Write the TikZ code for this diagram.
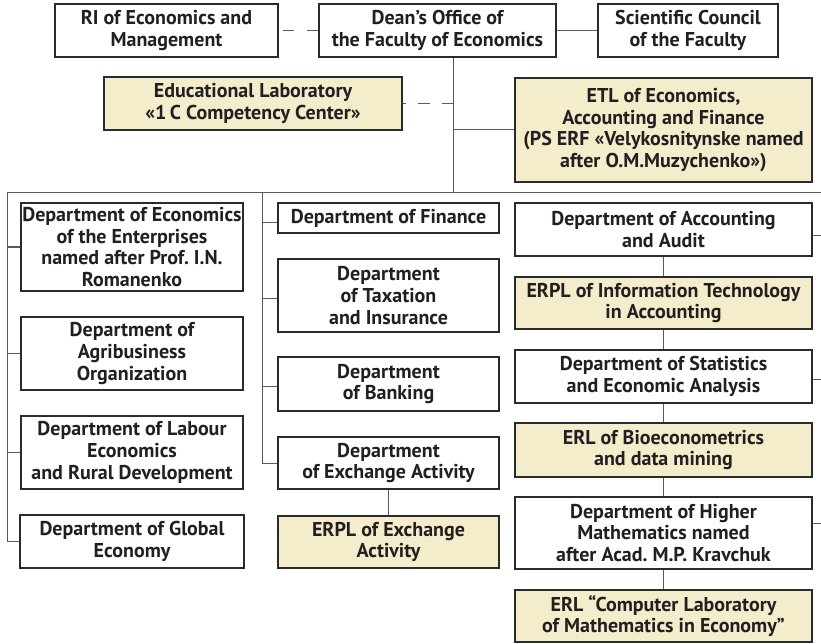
\documentclass[tikz,border=0pt]{standalone}
\usepackage{fontspec}
\setmainfont{PT Sans}
\usetikzlibrary{calc}
\frenchspacing
\definecolor{txt}{HTML}{231F20}
\definecolor{bord}{HTML}{2B2B2B}
\definecolor{conn}{HTML}{5A5A5A}
\definecolor{beige}{HTML}{F3EDCB}
\tikzset{
  box/.style={draw=bord, line width=1.1pt, fill=white, inner sep=0pt, align=center,
    text=txt, font=\bfseries\fontsize{20}{21.7}\selectfont},
  labbox/.style={box, fill=beige},
  conline/.style={draw=conn, line width=1pt},
  dashline/.style={conline, dash pattern=on 11.5pt off 13pt}
}
\begin{document}
\begin{tikzpicture}[x=1pt,y=-1pt]
\useasboundingbox (0,0) rectangle (821,644);
% top row
\node[box, minimum width=223pt, minimum height=53pt] (ri) at (166.5,30.5) {RI of Economics and\\Management};
\node[box, minimum width=237pt, minimum height=53pt] (dean) at (437.5,30.5) {Dean’s Office of\\the Faculty of Economics};
\node[box, minimum width=180pt, minimum height=53pt] (sc) at (688,30.5) {Scientific Council\\of the Faculty};
\node[labbox, minimum width=298pt, minimum height=53pt] (edu) at (253,103.5) {Educational Laboratory\\«1\,C Competency Center»};
\node[labbox, minimum width=297pt, minimum height=104pt] (etl) at (663.5,130) {ETL of Economics,\\Accounting and Finance\\(PS ERF «Velykosnitynske named\\after O.M.Muzychenko»)};
% column 1
\node[box, minimum width=222pt, minimum height=88pt] (e1) at (132,247) {Department of Economics\\of the Enterprises\\named after Prof. I.N.\\Romanenko};
\node[box, minimum width=222pt, minimum height=73pt] (e2) at (132,353.5) {Department of\\Agribusiness\\Organization};
\node[box, minimum width=222pt, minimum height=73pt] (e3) at (132,452.5) {Department of Labour\\Economics\\and Rural Development};
\node[box, minimum width=224pt, minimum height=53pt] (e4) at (132,541.5) {Department of Global\\Economy};
% column 2
\node[box, minimum width=221pt, minimum height=30pt] (f1) at (388.5,218) {Department of Finance};
\node[box, minimum width=221pt, minimum height=73pt] (f2) at (388.5,295.5) {Department\\of Taxation\\and Insurance};
\node[box, minimum width=221pt, minimum height=54pt] (f3) at (388.5,384) {Department\\of Banking};
\node[box, minimum width=221pt, minimum height=52pt] (f4) at (388.5,463) {Department\\of Exchange Activity};
\node[labbox, minimum width=221pt, minimum height=52pt] (f5) at (388.5,542) {ERPL of Exchange\\Activity};
% column 3
\node[box, minimum width=297pt, minimum height=53pt] (a1) at (663.5,229.5) {Department of Accounting\\and Audit};
\node[labbox, minimum width=297pt, minimum height=52pt] (a2) at (663.5,303) {ERPL of Information Technology\\in Accounting};
\node[box, minimum width=297pt, minimum height=53pt] (a3) at (663.5,376.5) {Department of Statistics\\and Economic Analysis};
\node[labbox, minimum width=297pt, minimum height=54pt] (a4) at (663.5,450) {ERL of Bioeconometrics\\and data mining};
\node[box, minimum width=297pt, minimum height=72pt] (a5) at (663.5,533) {Department of Higher\\Mathematics named\\after Acad. M.P. Kravchuk};
\node[labbox, minimum width=297pt, minimum height=52pt] (a6) at (663.5,616) {ERL “Computer Laboratory\\of Mathematics in Economy”};
% bus coordinates
\coordinate (busL) at (7,193);
\coordinate (busR) at (821,193);
\coordinate (busM) at (262,193);
\coordinate (rightEdge) at (821,0);
% connectors top
\draw[dashline, dash phase=20.5pt] (ri.east) -- (dean.west);
\draw[conline] (dean.east) -- (sc.west);
\draw[conline] (dean.south -| 453,0) -- (453,193);
\draw[dashline, dash pattern=on 12pt off 12pt, dash phase=9pt] (edu.east) -- (edu.east -| 453,0);
\draw[conline] (etl.west -| 453,0) -- (etl.west);
% bus
\draw[conline] (busL) -- (busR);
\draw[conline] (busL) |- (e4.west);
\draw[conline] (e1.west -| busL) -- (e1.west);
\draw[conline] (e2.west -| busL) -- (e2.west);
\draw[conline] (e3.west -| busL) -- (e3.west);
\draw[conline] (busM) |- (f4.west);
\draw[conline] ([yshift=-5pt]f1.west -| busM) -- ([yshift=-5pt]f1.west);
\draw[conline] ([yshift=-3pt]f2.west -| busM) -- ([yshift=-3pt]f2.west);
\draw[conline] ([yshift=-2pt]f3.west -| busM) -- ([yshift=-2pt]f3.west);
\draw[conline] (f4) -- (f5);
% column 3
\draw[conline] (a1) -- (a2);
\draw[conline] (a2) -- (a3);
\draw[conline] (a3) -- (a4);
\draw[conline] (a4) -- (a5);
\draw[conline] (a5) -- (a6);
\draw[conline] ([yshift=-6pt]a1.east) -- ([yshift=-6pt]a1.east -| rightEdge);
\draw[conline] ([yshift=-3pt]a3.east) -- ([yshift=-3pt]a3.east -| rightEdge);
\draw[conline] ([yshift=10pt]a5.east) -- ([yshift=10pt]a5.east -| rightEdge);
\end{tikzpicture}
\end{document}
